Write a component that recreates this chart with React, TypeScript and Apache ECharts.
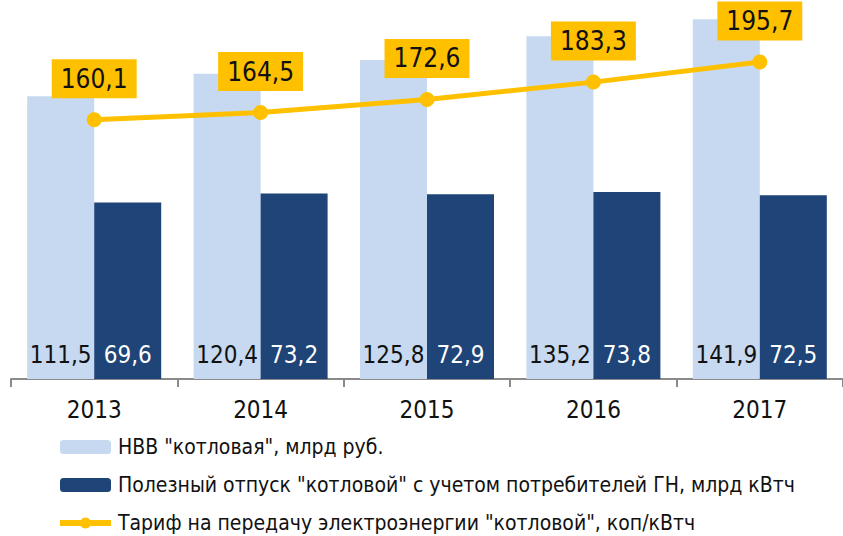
import React, { useEffect, useRef } from "react";
import * as echarts from "echarts";

const years = ["2013", "2014", "2015", "2016", "2017"];
const nvv = [111.5, 120.4, 125.8, 135.2, 141.9];
const otpusk = [69.6, 73.2, 72.9, 73.8, 72.5];
const tarif = [160.1, 164.5, 172.6, 183.3, 195.7];

const nameNvv = 'НВВ "котловая", млрд руб.';
const nameOtpusk = 'Полезный отпуск "котловой" с учетом потребителей ГН, млрд кВтч';
const nameTarif = 'Тариф на передачу электроэнергии "котловой", коп/кВтч';

const FONT = '"Liberation Sans Narrow", "Arial Narrow", "DejaVu Sans Condensed", sans-serif';
const fmt = (v: number) => v.toFixed(1).replace(".", ",");

export default function App() {
  const ref = useRef<HTMLDivElement>(null);
  useEffect(() => {
    document.body.style.margin = "0";
    const chart = echarts.init(ref.current!, null, { renderer: "svg" });
    chart.setOption({
      animation: false,
      grid: { left: 11, top: 0, height: 379, right: -6 },
      legend: {
        orient: "vertical",
        left: 57,
        top: 436,
        bottom: 0,
        padding: 0,
        itemWidth: 51,
        itemHeight: 14,
        itemGap: 16,
        textStyle: { fontFamily: FONT, fontSize: 21, color: "#111", lineHeight: 22, padding: [0, 0, 0, 2] },
        data: [
          nameNvv,
          nameOtpusk,
          { name: nameTarif, lineStyle: { width: 6, color: "#FFC000" }, itemStyle: { color: "#FFC000" } },
        ],
      },
      xAxis: {
        type: "category",
        data: years,
        axisLine: { lineStyle: { color: "#8a8a8a", width: 2 } },
        axisTick: { show: true, length: 8, lineStyle: { color: "#8a8a8a", width: 2 } },
        axisLabel: { fontFamily: FONT, fontSize: 24, color: "#111", margin: 19 },
      },
      yAxis: [
        { type: "value", min: 0, max: 149.5, show: false, splitLine: { show: false } },
        { type: "value", min: 0, max: 234, show: false, splitLine: { show: false } },
      ],
      series: [
        {
          name: nameNvv,
          type: "bar",
          data: nvv,
          barWidth: 67,
          barGap: "0%",
          itemStyle: { color: "#C6D9F0" },
          label: {
            show: true,
            position: "insideBottom",
            distance: 12,
            formatter: (p: any) => fmt(p.value),
            fontFamily: FONT,
            fontSize: 24,
            color: "#111",
          },
        },
        {
          name: nameOtpusk,
          type: "bar",
          data: otpusk,
          barWidth: 67,
          barGap: "0%",
          itemStyle: { color: "#1F4478" },
          label: {
            show: true,
            position: "insideBottom",
            distance: 12,
            formatter: (p: any) => fmt(p.value),
            fontFamily: FONT,
            fontSize: 24,
            color: "#fff",
          },
        },
        {
          name: nameTarif,
          type: "line",
          yAxisIndex: 1,
          data: tarif,
          symbol: "circle",
          symbolSize: 15,
          lineStyle: { color: "#FFC000", width: 5 },
          itemStyle: { color: "#FFC000" },
          label: {
            show: true,
            position: "top",
            distance: 14,
            formatter: (p: any) => fmt(p.value),
            fontFamily: FONT,
            fontSize: 26,
            lineHeight: 27,
            color: "#111",
            backgroundColor: "#FFC000",
            padding: [6, 9, 6, 9],
          },
        },
      ],
    });
    return () => chart.dispose();
  }, []);
  return <div ref={ref} style={{ width: 843, height: 536 }} />;
}
